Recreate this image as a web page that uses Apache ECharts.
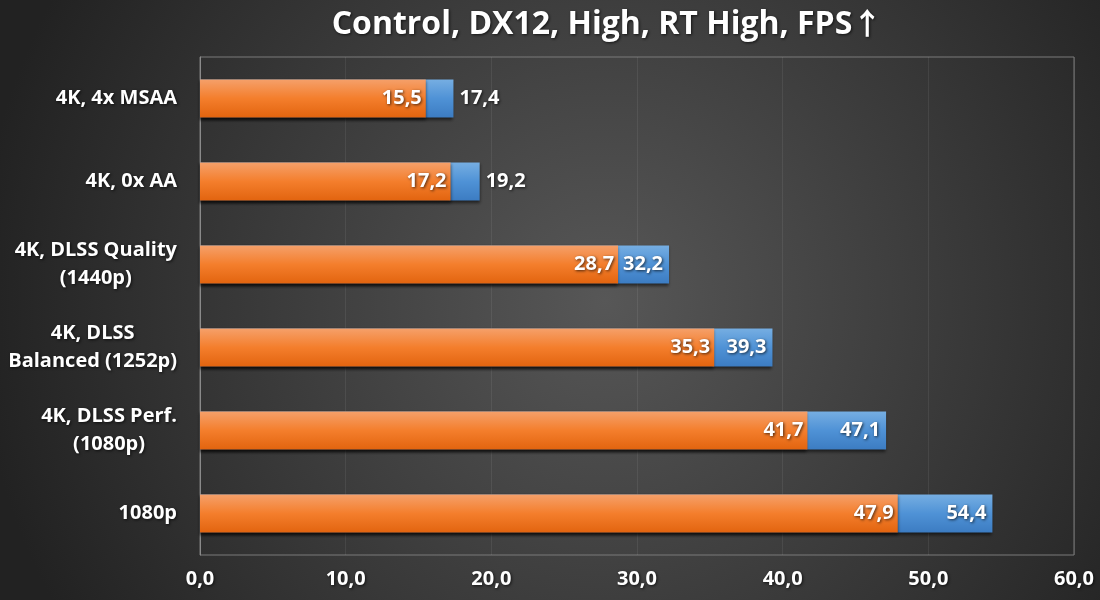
<!DOCTYPE html>
<html><head><meta charset="utf-8">
<script src="https://cdn.jsdelivr.net/npm/echarts@6/dist/echarts.min.js"></script>
<style>html,body{margin:0;padding:0;background:#333}#c{width:1100px;height:600px}</style>
</head><body><div id="c"></div>
<script>
const categories = ['4K, 4x MSAA', '4K, 0x AA', '4K, DLSS Quality\n(1440p)', '4K, DLSS\nBalanced (1252p)', '4K, DLSS Perf.\n(1080p)', '1080p'];
const orangeValues = [15.5, 17.2, 28.7, 35.3, 41.7, 47.9];
const blueValues = [17.4, 19.2, 32.2, 39.3, 47.1, 54.4];
const blueLabelOutside = [true, true, false, false, false, false];
const titleMain = 'Control, DX12, High, RT High, FPS';
const titleArrow = '↑';

const FONT = '"Open Sans"';
const fmt = v => v.toFixed(1).replace('.', ',');
const shadowText = {textShadowColor: 'rgba(0,0,0,0.7)', textShadowBlur: 3, textShadowOffsetX: 1, textShadowOffsetY: 1};

const chart = echarts.init(document.getElementById('c'));
chart.setOption({
  backgroundColor: {type: 'radial', x: 0.55, y: 0.5, r: 1.05, colorStops: [
    {offset: 0, color: '#575757'}, {offset: 1, color: '#222222'}]},
  title: {text: '{t|' + titleMain + '}{a|' + titleArrow + '}', left: 602, top: 3, textAlign: 'center',
    textStyle: {rich: {
      t: Object.assign({color: '#fff', fontFamily: FONT, fontWeight: 'bold', fontSize: 32}, shadowText),
      a: Object.assign({color: '#fff', fontFamily: '"Noto Sans CJK SC"', fontWeight: 'bold', fontSize: 30, padding: [0, 0, 3, 0]}, shadowText)}}},
  grid: {left: 200, right: 26, top: 57, bottom: 45, show: true, borderColor: '#7a7a7a', borderWidth: 1, backgroundColor: 'transparent'},
  xAxis: {type: 'value', min: 0, max: 60, interval: 10,
    axisLine: {show: false}, axisTick: {show: false},
    splitLine: {lineStyle: {color: 'rgba(255,255,255,0.07)'}},
    axisLabel: Object.assign({color: '#fff', fontFamily: FONT, fontWeight: 'bold', fontSize: 20, margin: 14, formatter: v => fmt(v)}, shadowText)},
  yAxis: {type: 'category', data: categories, inverse: true,
    axisLine: {show: true, lineStyle: {color: '#8a8a8a'}}, axisTick: {show: false},
    axisLabel: Object.assign({color: '#fff', fontFamily: FONT, fontWeight: 'bold', fontSize: 20, margin: 23, lineHeight: 28,
      formatter: v => v.split('\n').map(l => '{c|' + l + '}').join('\n'),
      rich: {c: Object.assign({align: 'center', color: '#fff', fontFamily: FONT, fontWeight: 'bold', fontSize: 20, lineHeight: 28}, shadowText)}}, shadowText)},
  series: [
    {name: 'blue', type: 'bar', barWidth: '46%', barGap: '-100%', z: 2,
      data: blueValues.map((v, i) => ({value: v, label: {position: blueLabelOutside[i] ? 'right' : 'insideRight'}})),
      itemStyle: {color: {type: 'linear', x: 0, y: 0, x2: 0, y2: 1, colorStops: [
        {offset: 0, color: '#76aee2'}, {offset: 0.5, color: '#4f92d6'}, {offset: 1, color: '#3c7cc2'}]},
        shadowColor: 'rgba(0,0,0,0.55)', shadowBlur: 3, shadowOffsetY: 2},
      label: Object.assign({show: true, color: '#fff', fontFamily: FONT, fontWeight: 'bold', fontSize: 20, distance: 6, formatter: p => fmt(p.value)}, shadowText)},
    {name: 'orange', type: 'bar', barWidth: '46%', z: 3,
      data: orangeValues,
      itemStyle: {color: {type: 'linear', x: 0, y: 0, x2: 0, y2: 1, colorStops: [
        {offset: 0, color: '#f5a06a'}, {offset: 0.5, color: '#f47e2c'}, {offset: 1, color: '#e2640f'}]},
        shadowColor: 'rgba(0,0,0,0.55)', shadowBlur: 3, shadowOffsetY: 2},
      label: Object.assign({show: true, position: 'insideRight', color: '#fff', fontFamily: FONT, fontWeight: 'bold', fontSize: 20, distance: 4, formatter: p => fmt(p.value)}, shadowText)}
  ]
});
</script></body></html>
